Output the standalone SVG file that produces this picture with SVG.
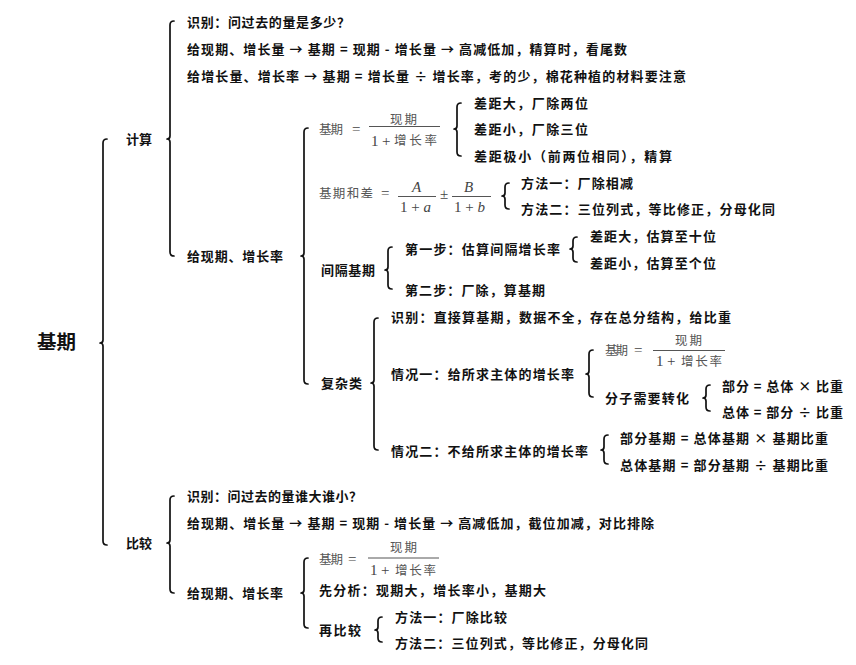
<svg xmlns="http://www.w3.org/2000/svg" width="856" height="665" viewBox="0 0 856 665">
<style>
.t{font-family:"Noto Sans CJK SC","Noto Sans",sans-serif;font-size:13px;fill:#111;font-weight:600}
.h{font-family:"Noto Sans CJK SC",sans-serif;font-size:19px;fill:#111;font-weight:bold}
.fc{font-family:"Noto Sans CJK SC",sans-serif;font-size:12.5px;fill:#555;font-weight:400}
.fm{font-family:"Liberation Serif","DejaVu Serif",serif;font-size:15px;fill:#444}
.fi{font-family:"Liberation Serif","DejaVu Serif",serif;font-size:15px;fill:#444;font-style:italic}
.bar{stroke:#555;stroke-width:1}
.br{fill:none;stroke:#111;stroke-width:1.7;stroke-linecap:round;stroke-linejoin:round}
</style>
<rect width="856" height="665" fill="#fff"/>
<g id="connectors">
<path class="br" d="M107 139 Q103 139 103 143 L103 340 Q103 343 100 343 Q103 343 103 346 L103 541 Q103 545 107 545"/>
<path class="br" d="M174 21 Q170 21 170 25 L170 136 Q170 139 167 139 Q170 139 170 142 L170 252 Q170 256 174 256"/>
<path class="br" d="M308 128 Q304 128 304 132 L304 253 Q304 256 301 256 Q304 256 304 259 L304 380 Q304 384 308 384"/>
<path class="br" d="M461 103 Q457 103 457 107 L457 126 Q457 129 454 129 Q457 129 457 132 L457 152 Q457 156 461 156"/>
<path class="br" d="M509 183 Q505 183 505 187 L505 193 Q505 196 502 196 Q505 196 505 199 L505 205 Q505 209 509 209"/>
<path class="br" d="M392 247 Q388 247 388 251 L388 267 Q388 270 385 270 Q388 270 388 273 L388 285 Q388 289 392 289"/>
<path class="br" d="M577 237 Q573 237 573 241 L573 246 Q573 249 570 249 Q573 249 573 252 L573 258 Q573 262 577 262"/>
<path class="br" d="M378 318 Q374 318 374 322 L374 380 Q374 383 371 383 Q374 383 374 386 L374 446 Q374 450 378 450"/>
<path class="br" d="M593 350 Q589 350 589 354 L589 371 Q589 374 586 374 Q589 374 589 377 L589 393 Q589 397 593 397"/>
<path class="br" d="M710 385 Q706 385 706 389 L706 395 Q706 398 703 398 Q706 398 706 401 L706 407 Q706 411 710 411"/>
<path class="br" d="M608 435 Q604 435 604 439 L604 447 Q604 450 601 450 Q604 450 604 453 L604 460 Q604 464 608 464"/>
<path class="br" d="M174 496 Q170 496 170 500 L170 540 Q170 543 167 543 Q170 543 170 546 L170 589 Q170 593 174 593"/>
<path class="br" d="M308 558 Q304 558 304 562 L304 590 Q304 593 301 593 Q304 593 304 596 L304 624 Q304 628 308 628"/>
<path class="br" d="M382 617 Q378 617 378 621 L378 627 Q378 630 375 630 Q378 630 378 633 L378 638 Q378 642 382 642"/>
</g>
<g id="root"><text class="h" x="37" y="349" textLength="39" lengthAdjust="spacingAndGlyphs">基期</text></g>
<g id="calc"><text class="t" x="126" y="144" textLength="26">计算</text></g>
<g id="calc-id"><text class="t" x="187" y="27" textLength="163">识别：问过去的量是多少？</text></g>
<g id="calc-inc"><text class="t" x="187" y="54" textLength="440">给现期、增长量 → 基期 = 现期 - 增长量 → 高减低加，精算时，看尾数</text></g>
<g id="calc-incrate"><text class="t" x="187" y="81" textLength="499">给增长量、增长率 → 基期 = 增长量 ÷ 增长率，考的少，棉花种植的材料要注意</text></g>
<g id="calc-rate"><text class="t" x="187" y="261" textLength="96">给现期、增长率</text></g>
<g id="formula1">
<text class="fc" x="319" y="133.5" textLength="24">基期</text>
<text class="fm" x="352" y="134">=</text>
<text class="fc" x="390" y="123.5" textLength="27">现期</text>
<line class="bar" x1="369" y1="126.5" x2="440" y2="126.5"/>
<text class="fm" x="371" y="145.5">1</text>
<text class="fm" x="382" y="145.5">+</text>
<text class="fc" x="394" y="145" textLength="43">增长率</text>
</g>
<g id="f1-a"><text class="t" x="474" y="108" textLength="114">差距大，厂除两位</text></g>
<g id="f1-b"><text class="t" x="474" y="134" textLength="114">差距小，厂除三位</text></g>
<g id="f1-c"><text class="t" x="474" y="161" textLength="198">差距极小（前两位相同），精算</text></g>
<g id="formula2">
<text class="fc" x="319" y="197.5" textLength="54">基期和差</text>
<text class="fm" x="381" y="198">=</text>
<text class="fi" x="412" y="192">A</text>
<line class="bar" x1="398" y1="196.5" x2="436" y2="196.5"/>
<text class="fm" x="400" y="211.5">1 + <tspan font-style="italic">a</tspan></text>
<text class="fm" x="440" y="199">±</text>
<text class="fi" x="464" y="192">B</text>
<line class="bar" x1="452" y1="196.5" x2="491" y2="196.5"/>
<text class="fm" x="454" y="211.5">1 + <tspan font-style="italic">b</tspan></text>
</g>
<g id="f2-a"><text class="t" x="521" y="188" textLength="112">方法一：厂除相减</text></g>
<g id="f2-b"><text class="t" x="521" y="214" textLength="254">方法二：三位列式，等比修正，分母化同</text></g>
<g id="interval"><text class="t" x="321" y="275" textLength="54">间隔基期</text></g>
<g id="step1"><text class="t" x="405" y="254" textLength="155">第一步：估算间隔增长率</text></g>
<g id="step1-a"><text class="t" x="590" y="241" textLength="126">差距大，估算至十位</text></g>
<g id="step1-b"><text class="t" x="590" y="268" textLength="126">差距小，估算至个位</text></g>
<g id="step2"><text class="t" x="405" y="295" textLength="140">第二步：厂除，算基期</text></g>
<g id="complex"><text class="t" x="321" y="388" textLength="41">复杂类</text></g>
<g id="complex-id"><text class="t" x="391" y="322" textLength="340">识别：直接算基期，数据不全，存在总分结构，给比重</text></g>
<g id="case1"><text class="t" x="391" y="379" textLength="183">情况一：给所求主体的增长率</text></g>
<g id="formula3">
<text class="fc" x="605" y="354.5" textLength="23">基期</text>
<text class="fm" x="634" y="355">=</text>
<text class="fc" x="675" y="344.5" textLength="27">现期</text>
<line class="bar" x1="653" y1="350.5" x2="725" y2="350.5"/>
<text class="fm" x="656" y="366">1</text>
<text class="fm" x="667" y="366">+</text>
<text class="fc" x="681" y="365.5" textLength="41">增长率</text>
</g>
<g id="numer"><text class="t" x="605" y="403" textLength="84">分子需要转化</text></g>
<g id="numer-a"><text class="t" x="722" y="391" textLength="121">部分 = 总体 × 比重</text></g>
<g id="numer-b"><text class="t" x="722" y="417" textLength="121">总体 = 部分 ÷ 比重</text></g>
<g id="case2"><text class="t" x="391" y="456" textLength="197">情况二：不给所求主体的增长率</text></g>
<g id="case2-a"><text class="t" x="620" y="443" textLength="208">部分基期 = 总体基期 × 基期比重</text></g>
<g id="case2-b"><text class="t" x="620" y="470" textLength="208">总体基期 = 部分基期 ÷ 基期比重</text></g>
<g id="compare"><text class="t" x="126" y="548" textLength="26">比较</text></g>
<g id="cmp-id"><text class="t" x="187" y="501" textLength="175">识别：问过去的量谁大谁小？</text></g>
<g id="cmp-inc"><text class="t" x="187" y="528" textLength="467">给现期、增长量 → 基期 = 现期 - 增长量 → 高减低加，截位加减，对比排除</text></g>
<g id="cmp-rate"><text class="t" x="187" y="598" textLength="96">给现期、增长率</text></g>
<g id="formula4">
<text class="fc" x="319" y="563.5" textLength="24">基期</text>
<text class="fm" x="348" y="564">=</text>
<text class="fc" x="390" y="551.5" textLength="27">现期</text>
<line class="bar" x1="368" y1="558" x2="439" y2="558"/>
<text class="fm" x="370" y="575">1</text>
<text class="fm" x="381" y="575">+</text>
<text class="fc" x="395" y="574.5" textLength="41">增长率</text>
</g>
<g id="analyze"><text class="t" x="319" y="595" textLength="227">先分析：现期大，增长率小，基期大</text></g>
<g id="recompare"><text class="t" x="319" y="635" textLength="42">再比较</text></g>
<g id="rc-a"><text class="t" x="395" y="622" textLength="112">方法一：厂除比较</text></g>
<g id="rc-b"><text class="t" x="395" y="648" textLength="253">方法二：三位列式，等比修正，分母化同</text></g>
</svg>
